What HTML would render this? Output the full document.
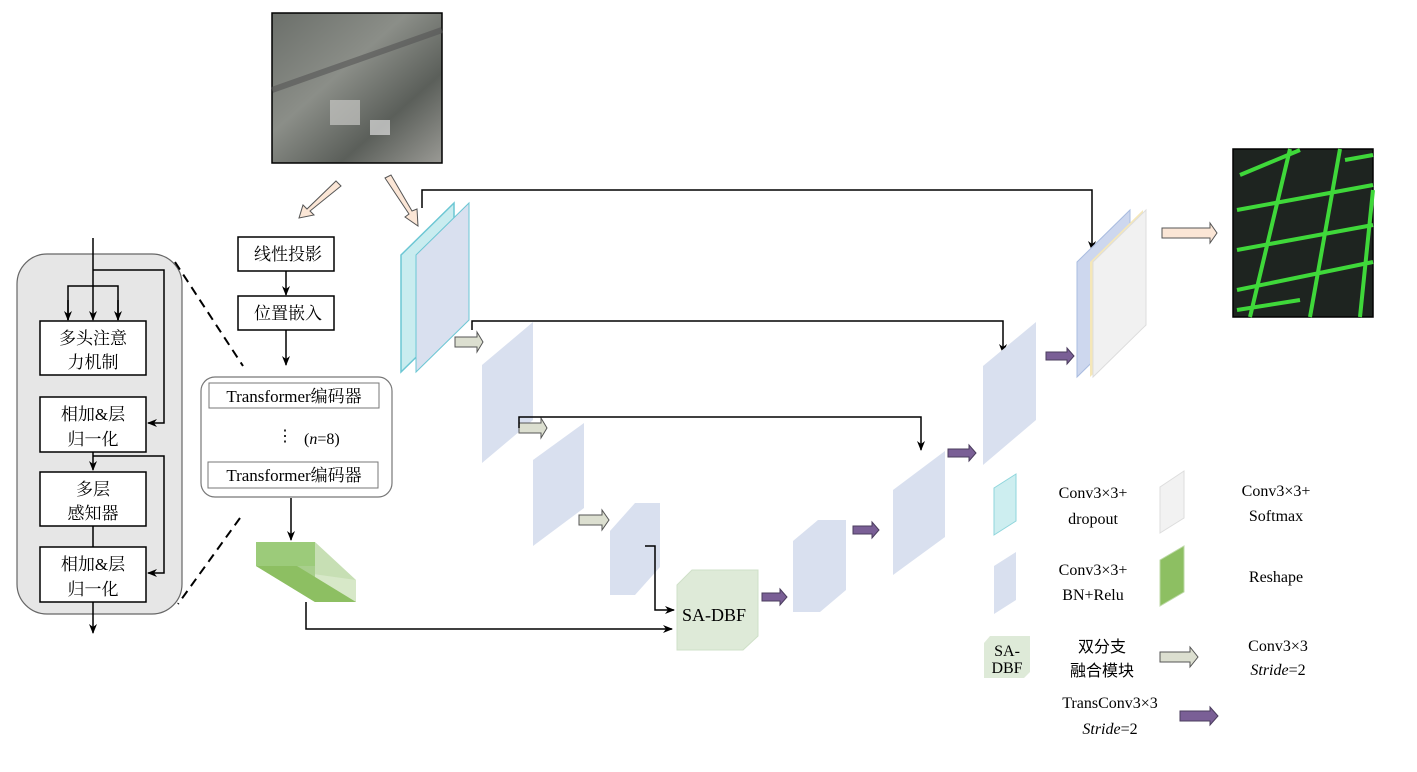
<!DOCTYPE html>
<html><head><meta charset="utf-8"><style>
body{margin:0;background:#fff;}
svg text{font-family:"Liberation Serif","Noto Serif CJK SC","Noto Sans CJK SC",serif;fill:#000;}
.cj{font-family:"Liberation Serif","Noto Sans CJK SC",sans-serif;}
</style></head><body>
<svg width="1417" height="767" viewBox="0 0 1417 767" xmlns="http://www.w3.org/2000/svg">
<defs>
<marker id="a" markerWidth="10" markerHeight="8" refX="9" refY="4" orient="auto" markerUnits="userSpaceOnUse"><path d="M0,0 L10,4 L0,8 L3,4z" fill="#000"/></marker>
<linearGradient id="sat" x1="0" y1="0" x2="1" y2="1"><stop offset="0" stop-color="#6b6f6a"/><stop offset=".4" stop-color="#8b8e88"/><stop offset=".7" stop-color="#5b5f5a"/><stop offset="1" stop-color="#9a9a95"/></linearGradient>
</defs>

<!-- input image -->
<rect x="272" y="13" width="170" height="150" fill="url(#sat)" stroke="#000" stroke-width="1.5"/>
<path d="M272,90 L442,30" stroke="#555" stroke-width="6" opacity=".6"/>
<rect x="330" y="100" width="30" height="25" fill="#c8c8c4" opacity=".7"/>
<rect x="370" y="120" width="20" height="15" fill="#ddd" opacity=".7"/>

<!-- output image -->
<rect x="1233" y="149" width="140" height="168" fill="#1e2420" stroke="#000" stroke-width="1.5"/>
<g stroke="#3fd83a" stroke-width="4" fill="none">
<path d="M1240,175 L1300,150 M1237,210 L1373,185 M1237,250 L1373,225 M1250,317 L1290,149 M1310,317 L1340,149 M1237,290 L1373,262 M1360,317 L1373,190 M1237,310 L1300,300 M1345,160 L1373,155"/>
</g>

<!-- beige arrows from input -->
<polygon points="336,181 341,186 310,211 314,215 299,218 303,205 307,209" fill="#fbe6d6" stroke="#555" stroke-width="1"/>
<polygon points="385,178 391,175 412,211 417,209 418,226 405,217 409,214" fill="#fbe6d6" stroke="#555" stroke-width="1"/>
<polygon points="1162,228 1210,228 1210,223 1217,233 1210,243 1210,238 1162,238" fill="#fbe6d6" stroke="#555" stroke-width="1"/>

<!-- left encoder block -->
<rect x="17" y="254" width="165" height="360" rx="30" fill="#e6e6e6" stroke="#666" stroke-width="1.2"/>
<g stroke="#000" stroke-width="1.5" fill="none">
<line x1="93" y1="238" x2="93" y2="320" marker-end="url(#a)"/>
<path d="M68,320 L68,286 L118,286 L118,320" />
<line x1="68" y1="300" x2="68" y2="320" marker-end="url(#a)"/>
<line x1="118" y1="300" x2="118" y2="320" marker-end="url(#a)"/>
<path d="M93,270 L164,270 L164,423 L148,423" marker-end="url(#a)"/>
<line x1="93" y1="452" x2="93" y2="470" marker-end="url(#a)"/>
<path d="M93,456 L164,456 L164,573 L148,573" marker-end="url(#a)"/>
<line x1="93" y1="526" x2="93" y2="548"/>
<line x1="93" y1="602" x2="93" y2="633" marker-end="url(#a)"/>
</g>
<g fill="#fff" stroke="#000" stroke-width="1.5">
<rect x="40" y="321" width="106" height="54"/>
<rect x="40" y="397" width="106" height="55"/>
<rect x="40" y="472" width="106" height="54"/>
<rect x="40" y="547" width="106" height="55"/>
</g>
<g class="cj" font-size="17" text-anchor="middle">
<text x="93" y="344">多头注意</text><text x="93" y="368">力机制</text>
<text x="93" y="420">相加&amp;层</text><text x="93" y="445">归一化</text>
<text x="93" y="495">多层</text><text x="93" y="519">感知器</text>
<text x="93" y="570">相加&amp;层</text><text x="93" y="595">归一化</text>
</g>
<g stroke="#000" stroke-width="2" stroke-dasharray="9,6">
<line x1="175" y1="262" x2="243" y2="366"/>
<line x1="240" y1="518" x2="178" y2="604"/>
</g>

<!-- transformer column -->
<g fill="#fff" stroke="#000" stroke-width="1.5">
<rect x="238" y="237" width="96" height="34"/>
<rect x="238" y="296" width="96" height="34"/>
</g>
<g class="cj" font-size="17" text-anchor="middle"><text x="288" y="260">线性投影</text><text x="288" y="319">位置嵌入</text></g>
<g stroke="#000" stroke-width="1.5">
<line x1="286" y1="271" x2="286" y2="295" marker-end="url(#a)"/>
<line x1="286" y1="330" x2="286" y2="365" marker-end="url(#a)"/>
<line x1="291" y1="498" x2="291" y2="540" marker-end="url(#a)"/>
</g>
<rect x="201" y="377" width="191" height="120" rx="14" fill="#fff" stroke="#777" stroke-width="1.2"/>
<rect x="209" y="383" width="170" height="25" fill="#fff" stroke="#777"/>
<rect x="208" y="462" width="170" height="26" fill="#fff" stroke="#777"/>
<g class="cj" font-size="17" text-anchor="middle"><text x="294" y="402">Transformer编码器</text><text x="294" y="481">Transformer编码器</text></g>
<text x="277" y="441" font-size="16">⋮</text>
<text x="304" y="444" font-size="16">(<tspan font-style="italic">n</tspan>=8)</text>

<!-- reshape green -->
<polygon points="256,542 315,542 356,580 356,602 315,602 256,566" fill="#c7dfb4"/>
<polygon points="256,566 315,602 356,602 356,580" fill="#d7e8c8"/>
<polygon points="256,542 315,542 315,602 256,566" fill="#a8cf8c"/>
<polygon points="256,566 315,602 356,602 297,566" fill="#8dbf62"/>
<polygon points="256,542 315,542 315,566 256,566" fill="#9ccb7a"/>
<path d="M306,602 L306,629 L672,629" stroke="#000" stroke-width="1.5" fill="none" marker-end="url(#a)"/>

<!-- encoder slabs -->
<polygon points="401,255 454,203 454,320 401,372" fill="#c9ecef" stroke="#6cc7d4" stroke-width="1.5"/>
<polygon points="416,255 469,203 469,320 416,372" fill="#d9e0ef" stroke="#6cc7d4" stroke-width="1"/>
<polygon points="482,365 533,322 533,420 482,463" fill="#d9e0ef"/>
<polygon points="533,460 584,423 584,508 533,546" fill="#d9e0ef"/>
<polygon points="610,531 635,503 660,503 660,567 635,595 610,595" fill="#d9e0ef"/>
<!-- SA-DBF cube -->
<polygon points="677,585 692,570 758,570 758,636 743,650 677,650" fill="#deead8" stroke="#cfe0c8"/>
<text x="714" y="621" font-size="18" text-anchor="middle">SA-DBF</text>

<!-- gray downsample arrows -->
<g fill="#dcdfd0" stroke="#555" stroke-width="1">
<polygon points="455,337 477,337 477,332 483,342 477,352 477,347 455,347"/>
<polygon points="519,423 541,423 541,418 547,428 541,438 541,433 519,433"/>
<polygon points="579,515 602,515 602,510 609,520 602,530 602,525 579,525"/>
</g>

<!-- skip connections -->
<g stroke="#000" stroke-width="1.5" fill="none">
<path d="M422,208 L422,190 L1092,190 L1092,250" marker-end="url(#a)"/>
<path d="M472,330 L472,321 L1003,321 L1003,353" marker-end="url(#a)"/>
<path d="M519,428 L519,417 L921,417 L921,450" marker-end="url(#a)"/>
<path d="M645,546 L655,546 L655,610 L674,610" marker-end="url(#a)"/>
</g>

<!-- decoder slabs -->
<polygon points="793,541 818,520 846,520 846,590 820,612 793,612" fill="#d9e0ef"/>
<polygon points="893,490 945,451 945,537 893,575" fill="#d9e0ef"/>
<polygon points="983,366 1036,322 1036,420 983,465" fill="#d9e0ef"/>
<polygon points="1077,262 1130,210 1130,325 1077,377" fill="#cdd7ee" stroke="#a9bce0"/>
<polygon points="1090,262 1143,210 1143,325 1090,377" fill="#f5e7b8"/>
<polygon points="1093,262 1146,210 1146,325 1093,377" fill="#f1f1f1" stroke="#ddd"/>

<!-- purple arrows -->
<g fill="#7a5f96" stroke="#4b3d5e" stroke-width="1">
<polygon points="762,593 780,593 780,589 787,597 780,605 780,601 762,601"/>
<polygon points="853,526 872,526 872,522 879,530 872,538 872,534 853,534"/>
<polygon points="948,449 969,449 969,445 976,453 969,461 969,457 948,457"/>
<polygon points="1046,352 1067,352 1067,348 1074,356 1067,364 1067,360 1046,360"/>
<polygon points="1180,711 1210,711 1210,707 1218,716 1210,725 1210,721 1180,721"/>
</g>

<!-- legend -->
<polygon points="994,488 1016,474 1016,521 994,535" fill="#cdeef0" stroke="#8fd6dc"/>
<polygon points="1160,487 1184,471 1184,518 1160,533" fill="#f2f2f2" stroke="#ddd"/>
<polygon points="994,566 1016,552 1016,600 994,614" fill="#d9e0ef"/>
<polygon points="1160,560 1184,546 1184,592 1160,606" fill="#8dbf62" stroke="#bcd9a5"/>
<polygon points="984,643 990,636 1030,636 1030,672 1024,678 984,678" fill="#deead8"/>
<text x="1007" y="656" font-size="16" text-anchor="middle">SA-</text>
<text x="1007" y="673" font-size="16" text-anchor="middle">DBF</text>
<polygon points="1160,652 1190,652 1190,647 1198,657 1190,667 1190,662 1160,662" fill="#dcdfd0" stroke="#555"/>
<g font-size="16" text-anchor="middle">
<text x="1093" y="498">Conv3×3+</text><text x="1093" y="524">dropout</text>
<text x="1276" y="496">Conv3×3+</text><text x="1276" y="521">Softmax</text>
<text x="1093" y="575">Conv3×3+</text><text x="1093" y="600">BN+Relu</text>
<text x="1276" y="582">Reshape</text>
<text x="1102" y="652" class="cj">双分支</text><text x="1102" y="676" class="cj">融合模块</text>
<text x="1278" y="651">Conv3×3</text><text x="1278" y="675"><tspan font-style="italic">Stride</tspan>=2</text>
<text x="1110" y="708">TransConv3×3</text><text x="1110" y="734"><tspan font-style="italic">Stride</tspan>=2</text>
</g>
</svg>
</body></html>
